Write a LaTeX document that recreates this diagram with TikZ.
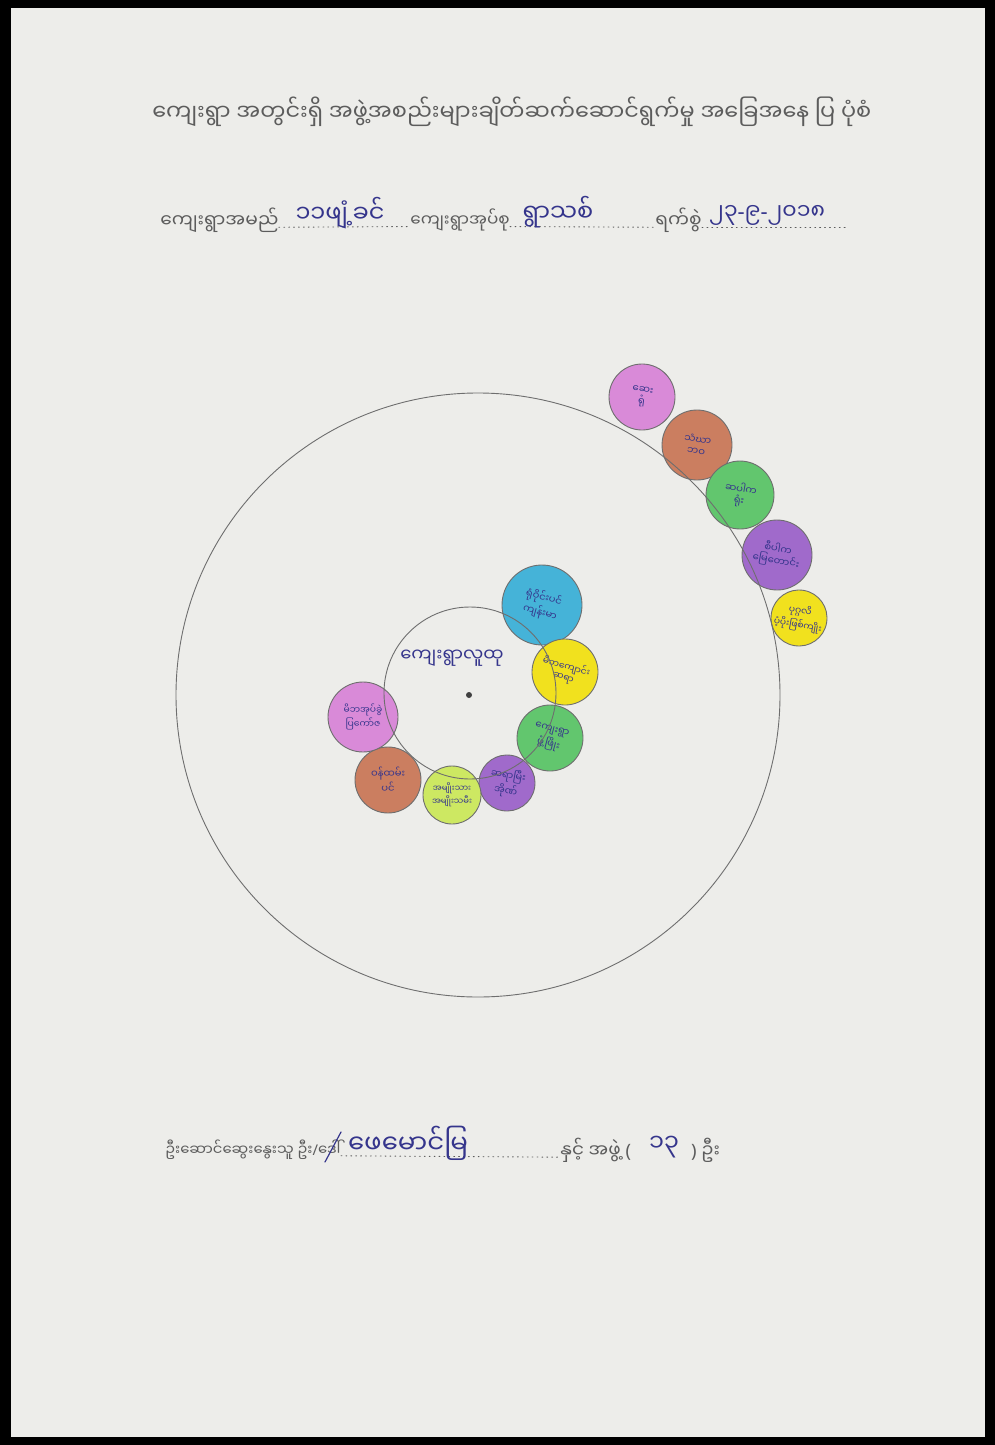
\documentclass[tikz,border=0pt]{standalone}
\usepackage{fontspec}
\usepackage{tikz}
\usetikzlibrary{positioning}
\newfontfamily\mmfont[Script=Myanmar]{Noto Sans Myanmar UI}
\newfontfamily\latfont{Noto Sans}
\newcommand{\lat}[1]{{\latfont #1}}
\definecolor{paper}{HTML}{EDEDEA}
\definecolor{printink}{HTML}{5C5C5C}
\definecolor{penink}{HTML}{35358C}
\definecolor{ringline}{HTML}{6E6E6E}
\definecolor{orgpink}{HTML}{D98AD8}
\definecolor{orgorange}{HTML}{CB7E60}
\definecolor{orggreen}{HTML}{62C66E}
\definecolor{orgpurple}{HTML}{A06ACB}
\definecolor{orgyellow}{HTML}{F1E11E}
\definecolor{orgcyan}{HTML}{45B3D8}
\definecolor{orglime}{HTML}{CDE862}
\tikzset{
    every picture/.style={line cap=round,line join=round},
    printed/.style={text=printink,font=\mmfont\fontsize{9.3}{11}\selectfont,
      inner sep=0pt,anchor=west},
    handwr/.style={text=penink,font=\mmfont\fontsize{12}{13}\selectfont,inner sep=0pt},
    fieldline/.style={draw=printink,dotted,line width=0.45pt},
    ring/.style={circle,draw=ringline,line width=0.45pt,inner sep=0pt},
    orgdisc/.style={circle,draw=ringline,line width=0.45pt,inner sep=0pt,
      text=penink,font=\mmfont\fontsize{5}{5.8}\selectfont,align=center}
}

\begin{document}
\begin{tikzpicture}[x=0.5pt,y=-0.5pt]
  \useasboundingbox (0,0) rectangle (995,1445);
  \fill[black] (0,0) rectangle (995,1445);
  \fill[paper] (11,8) rectangle (985,1437);

  % heading
  \node[printed,font=\mmfont\fontsize{11.2}{13}\selectfont] (title) at (152,112) {ကျေးရွာ အတွင်းရှိ အဖွဲ့အစည်းများချိတ်ဆက်ဆောင်ရွက်မှု အခြေအနေ ပြ ပုံစံ};

  % village fields
  \node[printed] (namelbl) at (160,220) {ကျေးရွာအမည်};
  \node[printed,font=\mmfont\fontsize{8.4}{10}\selectfont] (tractlbl) at (410,220) {ကျေးရွာအုပ်စု};
  \node[printed] (datelbl) at (655,220) {ရက်စွဲ};
  \coordinate[right=72pt of datelbl.base east] (dateend);
  \draw[fieldline] (namelbl.base east) -- (tractlbl.base west);
  \draw[fieldline] (tractlbl.base east) -- (datelbl.base west);
  \draw[fieldline] (datelbl.base east) -- (dateend);
  \node[handwr] (village) at (340,213) {၁၁ဖျံ့ခင်};
  \node[handwr] (tract) at (558,212) {ရွာသစ်};
  \node[handwr,font=\mmfont\fontsize{11}{12}\selectfont] (date) at (767,215) {၂၃\lat{-}၉\lat{-}၂၀၁၈};

  % outer ring organisations
  \node[orgdisc,fill=orgpink,minimum size=33pt,rotate=-8] (hospital) at (642,397) {ဆေး\\ရုံ};
  \node[orgdisc,fill=orgorange,minimum size=35pt,rotate=-8] (sangha) at (697,445) {သံဃာ\\ဘဝ};
  \node[orgdisc,fill=orggreen,minimum size=34pt,rotate=-10] (office) at (740,495) {ဆပါက\\ရုံး};
  \node[orgdisc,fill=orgpurple,minimum size=35pt,rotate=-10] (landoffice) at (777,555) {စီပါက\\မြေတောင်း};
  \node[orgdisc,fill=orgyellow,minimum size=28pt,rotate=-10,font=\mmfont\fontsize{4.6}{5.4}\selectfont] (donor) at (799,618) {ပုဂ္ဂလိ\\ပံ့ပိုးဖြစ်ကျိုး};

  % inner ring organisations
  \node[orgdisc,fill=orgcyan,minimum size=40pt,rotate=-15] (clinic) at (542,605) {ရုံဝိုင်းပင်\\ကျန်းမာ};
  \node[orgdisc,fill=orgyellow,minimum size=33pt,rotate=-15,font=\mmfont\fontsize{4.6}{5.4}\selectfont] (parents) at (565,672) {မိဘကျောင်း\\ဆရာ};
  \node[orgdisc,fill=orggreen,minimum size=33pt,rotate=-15] (develop) at (550,738) {ကျေးရွာ\\ဖွံ့ဖြိုး};
  \node[orgdisc,fill=orgpurple,minimum size=28pt,rotate=-10] (teachers) at (507,783) {ဆရာမြီး\\အိုဏ်};
  \node[orgdisc,fill=orglime,minimum size=29pt,font=\mmfont\fontsize{4.2}{5.2}\selectfont] (people) at (452,795) {အမျိုးသား\\အမျိုးသမီး};
  \node[orgdisc,fill=orgorange,minimum size=33pt] (staff) at (388,780) {ဝန်ထမ်း\\ပင်};
  \node[orgdisc,fill=orgpink,minimum size=35pt,font=\mmfont\fontsize{4.6}{5.4}\selectfont] (elders) at (363,717) {မိဘအုပ်ခွဲ\\ပြကော်ဇ};

  % rings and community
  \node[ring,minimum size=302pt] (outerring) at (478,695) {};
  \node[ring,minimum size=86pt] (innerring) at (470,693) {};
  \node[circle,fill=black!75,inner sep=0pt,minimum size=3pt] (hub) at (469,695) {};
  \node[handwr,font=\mmfont\fontsize{9}{10}\selectfont] (community) at (452,658) {ကျေးရွာလူထု};

  % facilitator line
  \node[printed,font=\mmfont\fontsize{7.4}{9}\selectfont] (leadlbl) at (165,1150) {ဦးဆောင်ဆွေးနွေးသူ ဦး\lat{/}ဒေါ်};
  \node[printed,font=\mmfont\fontsize{9.2}{11}\selectfont] (teamlbl) at (560,1150) {နှင့် အဖွဲ့ \lat{(}\hspace{30pt}\lat{)} ဦး};
  \draw[fieldline] (leadlbl.base east) -- (teamlbl.base west);
  \draw[penink,line width=0.6pt] ([xshift=-8pt,yshift=-6pt]leadlbl.east) -- ([xshift=0pt,yshift=9pt]leadlbl.east);
  \node[handwr,font=\mmfont\fontsize{13}{14}\selectfont] (leader) at (408,1143) {ဖေမောင်မြ};
  \node[handwr] (count) at (664,1147) {၁၃};
\end{tikzpicture}
\end{document}
